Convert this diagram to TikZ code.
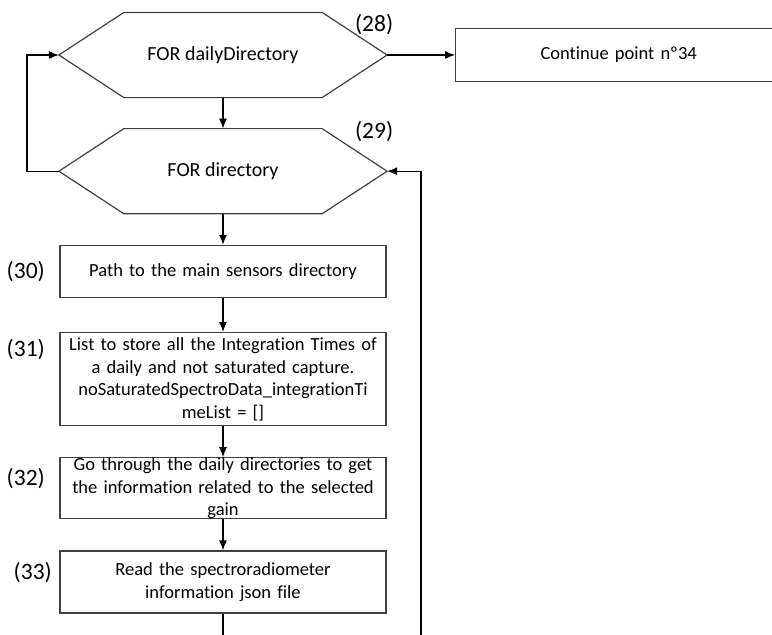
\documentclass[tikz,border=0pt]{standalone}
\usepackage{fontspec}
\setmainfont{Carlito}[Ligatures=NoCommon]
\usetikzlibrary{positioning,arrows.meta}
\tikzset{%
  for loop/.style={
    rectangle,
    minimum width=197pt,
    minimum height=84pt,
    font=\fontsize{20}{24}\selectfont
  },
  action/.style={
    rectangle,
    draw=black!75,
    inner sep=2pt,
    minimum width=326pt,
    text width=314pt,
    align=center,
    font=\fontsize{18.5}{22.5}\selectfont
  },
}

\begin{document}
\begin{tikzpicture}[x=1pt,y=1pt,node distance=31pt,>={Latex[length=10pt,width=8pt]},line width=1.2pt]
        \tikzstyle{tag}=[inner sep=0pt,font=\fontsize{23.5}{28}\selectfont]
        \useasboundingbox (0,0) rectangle (772,-635);

        \node[for loop] (h28) at (223,-55) {FOR dailyDirectory};
        \node[for loop,below=of h28] (h29) {FOR directory};

        % hexagon points
        \foreach \h in {h28,h29} {
          \coordinate (\h l) at ([xshift=-65pt]\h.west);
          \coordinate (\h r) at ([xshift=65pt]\h.east);
          \draw[black!75] (\h.north west) -- (\h.north east) -- (\h r) -- (\h.south east) -- (\h.south west) -- (\h l) -- cycle;
        }

        \node[action,minimum height=53pt,right=68pt of h28r] (c34) {Continue point nº34};

        \node[action,minimum height=52pt,below=of h29] (s30) {Path to the main sensors directory};
        \node[action,minimum height=93pt,below=34pt of s30] (s31) {List to store all the Integration Times of\\a daily and not saturated capture.\\noSaturatedSpectroData\_integrationTi\\meList = []};
        \node[action,minimum height=61pt,below=of s31] (s32) {};
        \node[action,draw=none] (t32) at (s32) {Go through the daily directories to get\\the information related to the selected\\gain};
        \node[action,minimum height=62pt,below=of s32] (s33) {Read the spectroradiometer\\information json file};

        \node[tag] (n28) at ([xshift=-13pt,yshift=30pt]h28r) {(28)};
        \node[tag] (n29) at ([xshift=-13pt,yshift=40pt]h29r) {(29)};
        \node[tag,left=14pt of s30] (n30) {(30)};
        \node[tag,left=14pt of s31,yshift=30pt] (n31) {(31)};
        \node[tag,left=14pt of s32,yshift=10pt] (n32) {(32)};
        \node[tag,left=7pt of s33,yshift=9pt] (n33) {(33)};

        \coordinate (back) at (421,-635);
        \coordinate (next) at (s33.south |- back);

        \draw[->] (h28r) -- (c34);
        \draw[->] (h28) -- (h29);
        \draw[->] (h29) -- (s30);
        \draw[->] (s30) -- (s31);
        \draw[->] (s31) -- (s32);
        \draw[->] (s32) -- (s33);
        \draw (s33) -- (next);
        \draw[->] (h29l) -- ++(-32,0) |- (h28l);
        \draw[->] (back) |- (h29r);
\end{tikzpicture}
\end{document}
